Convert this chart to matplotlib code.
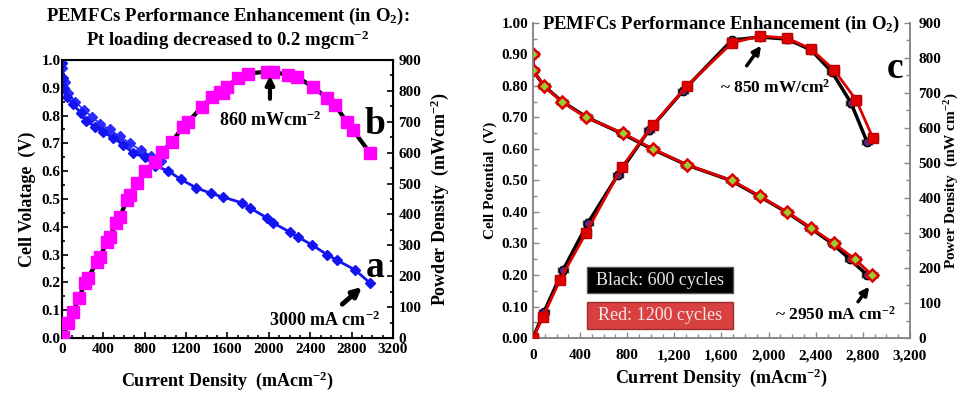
import numpy as np
import matplotlib as mpl
mpl.use('Agg')
import matplotlib.pyplot as plt
from matplotlib.ticker import MultipleLocator, FuncFormatter, AutoMinorLocator
from matplotlib.patches import FancyBboxPatch

plt.rcParams['font.family'] = ['Liberation Serif', 'DejaVu Serif']
plt.rcParams['font.weight'] = 'bold'
plt.rcParams['mathtext.fontset'] = 'custom'
plt.rcParams['mathtext.rm'] = 'Liberation Serif:bold'
plt.rcParams['mathtext.it'] = 'Liberation Serif:bold'
plt.rcParams['mathtext.bf'] = 'Liberation Serif:bold'

# ---- left panel data (polarisation, 0.2 mg/cm2 Pt), two scans ----
cur_a1 = [0, 10, 20, 50, 110, 180, 235, 320, 400, 495, 590, 690, 800, 900, 1030, 1150,
          1300, 1440, 1556, 1740, 1817, 1982, 2040, 2204, 2282, 2417, 2562, 2659, 2833, 2978]
volt_a1 = [0.99, 0.935, 0.90, 0.867, 0.84, 0.81, 0.78, 0.76, 0.74, 0.72, 0.695, 0.665,
           0.65, 0.62, 0.60, 0.57, 0.54, 0.52, 0.507, 0.486, 0.468, 0.432, 0.414, 0.381,
           0.363, 0.335, 0.30, 0.28, 0.245, 0.198]
cur_a2 = [0, 25, 60, 130, 210, 290, 370, 460, 560, 660, 760, 860, 960]
volt_a2 = [0.97, 0.92, 0.88, 0.85, 0.82, 0.795, 0.77, 0.75, 0.725, 0.70, 0.675, 0.655, 0.635]

cur_b = [10, 58, 106, 164, 222, 251, 338, 367, 435, 464, 522, 561, 628, 657, 725, 806,
         899, 967, 1063, 1170, 1218, 1353, 1450, 1527, 1556, 1595, 1702, 1798, 1982,
         2040, 2185, 2272, 2426, 2562, 2640, 2755, 2813, 2978]
pow_b = [3, 49, 84, 129, 178, 194, 246, 262, 311, 327, 372, 392, 447, 463, 502, 540,
         570, 602, 635, 683, 699, 748, 780, 796, 793, 813, 842, 856, 862, 862, 851, 845,
         813, 777, 754, 699, 673, 599]

# ---- right panel data (after cycling) ----
cur_v_red = [0, 0, 93, 246, 450, 764, 1019, 1307, 1689, 1927, 2156, 2360, 2555, 2734, 2878]
volt_red = [0.90, 0.85, 0.80, 0.75, 0.70, 0.65, 0.60, 0.55, 0.50, 0.45, 0.40, 0.35, 0.30, 0.25, 0.20]
cur_v_blk = [0, 0, 93, 250, 460, 750, 1010, 1300, 1680, 1920, 2150, 2350, 2540, 2690, 2836]
volt_blk = [0.90, 0.85, 0.80, 0.75, 0.70, 0.65, 0.60, 0.55, 0.50, 0.45, 0.40, 0.35, 0.30, 0.25, 0.20]

cur_p_red = [0, 85, 229, 450, 756, 1019, 1307, 1689, 1927, 2156, 2360, 2555, 2743, 2886]
pow_red = [0, 60, 166, 300, 489, 609, 720, 843, 863, 857, 826, 766, 680, 571]
cur_p_blk = [0, 93, 255, 467, 721, 985, 1273, 1689, 1927, 2156, 2360, 2538, 2700, 2836]
pow_blk = [0, 74, 194, 329, 466, 594, 706, 851, 860, 854, 823, 760, 671, 560]

fig = plt.figure(figsize=(9.65, 3.95), dpi=100)

# ================= left panel =================
ax1 = fig.add_axes([0.0642, 0.1443, 0.343, 0.704])
ax1.plot(cur_a2, volt_a2, '-', color='#2a2aff', marker='D', ms=5, lw=1.2, zorder=3)
ax1.plot(cur_a1, volt_a1, '-', color='#1414f0', marker='D', ms=5, lw=2, zorder=3)
ax1.set_xlim(0, 3200)
ax1.set_ylim(0, 1.0)
ax1.xaxis.set_major_locator(MultipleLocator(400))
ax1.yaxis.set_major_locator(MultipleLocator(0.1))
ax1.yaxis.set_major_formatter(FuncFormatter(lambda v, p: "%.1f" % v))
ax1.xaxis.set_minor_locator(AutoMinorLocator(4))
ax1.yaxis.set_minor_locator(AutoMinorLocator(2))
ax1.tick_params(which='both', direction='in', labelsize=11, width=1.2)
ax1.tick_params(which='major', length=4)
ax1.tick_params(which='minor', length=2.5)
ax1.tick_params(axis='y', pad=1)
ax1.set_xlabel("Current Density  (mAcm$^{-2}$)", fontsize=13, fontweight='bold', labelpad=10)
ax1.set_ylabel("Cell Volatage  (V)", fontsize=13, fontweight='bold', labelpad=4)
for s in ax1.spines.values():
    s.set_linewidth(1.5)

ax1b = ax1.twinx()
ax1b.plot(cur_b, pow_b, '-', color='black', lw=3, zorder=2)
ax1b.plot(cur_b, pow_b, 's', color='#ff00ff', ms=8, zorder=3)
ax1b.set_ylim(0, 900)
ax1b.yaxis.set_major_locator(MultipleLocator(100))
ax1b.yaxis.set_minor_locator(AutoMinorLocator(2))
ax1b.tick_params(which='both', direction='in', labelsize=11, width=1.2, pad=4)
ax1b.tick_params(which='major', length=4)
ax1b.tick_params(which='minor', length=2.5)
ax1b.set_ylabel("Powder Density  (mWcm$^{-2}$)", fontsize=13, fontweight='bold', labelpad=5)

ax1.set_title("PEMFCs Performance Enhancement (in O$_2$):\nPt loading decreased to 0.2 mgcm$^{-2}$",
              fontsize=13.5, fontweight='bold', pad=10, linespacing=1.1)

ax1b.annotate("", xy=(2011, 858), xytext=(2011, 765),
              arrowprops=dict(arrowstyle='-|>', color='black', lw=3, mutation_scale=12))
ax1b.text(2011, 706, "860 mWcm$^{-2}$", ha='center', va='center', fontsize=13)
ax1b.text(3026, 690, "b", ha='center', va='center', fontsize=27, fontweight='bold')
ax1.text(3026, 0.255, "a", ha='center', va='center', fontsize=27, fontweight='bold')
ax1.annotate("", xy=(2920, 0.19), xytext=(2690, 0.115),
             arrowprops=dict(arrowstyle='-|>', color='black', lw=3.5, mutation_scale=13))
ax1.text(2540, 0.062, "3000 mA cm$^{-2}$", ha='center', va='center', fontsize=13)

# ================= right panel =================
gray = '#888888'
ax2 = fig.add_axes([0.5523, 0.1443, 0.3907, 0.7975])
ax2.errorbar(cur_v_blk, volt_blk, xerr=40, yerr=0.01, fmt='-o', color='black', lw=2.5,
             ms=6, mfc='#5a2a8a', mec='black', ecolor='#444444', elinewidth=0.8, capsize=2, zorder=3)
ax2.errorbar(cur_v_red, volt_red, xerr=40, yerr=0.01, fmt='-D', color='#e00000', lw=2,
             ms=6, mfc='#9acd32', mec='#e00000', mew=1.8, ecolor='#555555', elinewidth=0.8,
             capsize=2, zorder=4)
ax2.set_xlim(0, 3200)
ax2.set_ylim(0, 1.0)
ax2.xaxis.set_major_locator(MultipleLocator(400))
ax2.xaxis.set_major_formatter(FuncFormatter(lambda v, p: "{:,.0f}".format(v)))
ax2.yaxis.set_major_locator(MultipleLocator(0.1))
ax2.yaxis.set_major_formatter(FuncFormatter(lambda v, p: "%.2f" % v))
ax2.xaxis.set_minor_locator(AutoMinorLocator(4))
ax2.yaxis.set_minor_locator(AutoMinorLocator(2))
ax2.tick_params(which='both', direction='in', labelsize=11, color=gray, width=1)
ax2.tick_params(which='major', length=4)
ax2.tick_params(which='minor', length=3)
ax2.tick_params(axis='x', pad=8)
ax2.set_xlabel("Current Density  (mAcm$^{-2}$)", fontsize=13, fontweight='bold', labelpad=3)
ax2.set_ylabel("Cell Potential  (V)", fontsize=11, fontweight='bold', labelpad=3)
for s in ax2.spines.values():
    s.set_color(gray)
    s.set_linewidth(1.2)
ax2.spines['top'].set_visible(False)

ax2b = ax2.twinx()
ax2b.errorbar(cur_p_blk, pow_blk, xerr=40, yerr=10, fmt='-o', color='black', lw=2.5,
              ms=6, mfc='#5a2a8a', mec='black', ecolor='#444444', elinewidth=0.8, capsize=2, zorder=3)
ax2b.errorbar(cur_p_red, pow_red, xerr=40, yerr=10, fmt='-s', color='#e00000', lw=2,
              ms=7, mfc='#e00000', mec='#c00000', ecolor='#555555', elinewidth=0.8, capsize=2, zorder=4)
ax2b.set_ylim(0, 900)
ax2b.yaxis.set_major_locator(MultipleLocator(100))
ax2b.yaxis.set_minor_locator(AutoMinorLocator(2))
ax2b.tick_params(which='both', direction='in', labelsize=11, color=gray, width=1, pad=6)
ax2b.tick_params(which='major', length=4)
ax2b.tick_params(which='minor', length=3)
ax2b.set_ylabel("Power Density  (mW cm$^{-2}$)", fontsize=11, fontweight='bold', labelpad=1)
for s in ax2b.spines.values():
    s.set_color(gray)
    s.set_linewidth(1.2)
ax2b.spines['top'].set_visible(False)

ax2.text(0.5, 0.995, "PEMFCs Performance Enhancement (in O$_2$)", transform=ax2.transAxes,
         ha='center', va='center', fontsize=13.5, fontweight='bold',
         bbox=dict(facecolor='white', edgecolor='none', pad=0.5), zorder=10)
ax2.text(3073, 0.857, "c", ha='center', va='center', fontsize=27, fontweight='bold')
ax2.text(2054, 0.794, "~ 850 mW/cm$^{2}$", ha='center', va='center', fontsize=12.5)
ax2.annotate("", xy=(1950, 0.935), xytext=(1800, 0.857),
             arrowprops=dict(arrowstyle='-|>', color='black', lw=2.5, mutation_scale=12))
ax2.text(2564, 0.073, "~ 2950 mA cm$^{-2}$", ha='center', va='center', fontsize=12.5)
ax2.annotate("", xy=(2868, 0.17), xytext=(2745, 0.108),
             arrowprops=dict(arrowstyle='-|>', color='black', lw=2.5, mutation_scale=12))

# legend boxes
ax2.add_patch(FancyBboxPatch((0.143, 0.143), 0.388, 0.082, boxstyle='square,pad=0',
                             transform=ax2.transAxes, facecolor='black', edgecolor='#555555',
                             zorder=8))
ax2.text(0.337, 0.184, "Black: 600 cycles", transform=ax2.transAxes, ha='center', va='center',
         fontsize=13, fontweight='normal', color='#e8e8e8', zorder=9)
ax2.add_patch(FancyBboxPatch((0.143, 0.029), 0.388, 0.085, boxstyle='square,pad=0',
                             transform=ax2.transAxes, facecolor='#d94040', edgecolor='#993030',
                             zorder=8))
ax2.text(0.337, 0.071, "Red: 1200 cycles", transform=ax2.transAxes, ha='center', va='center',
         fontsize=13, fontweight='normal', color='#f5e8e8', zorder=9)

fig.savefig("out.png", dpi=100)
